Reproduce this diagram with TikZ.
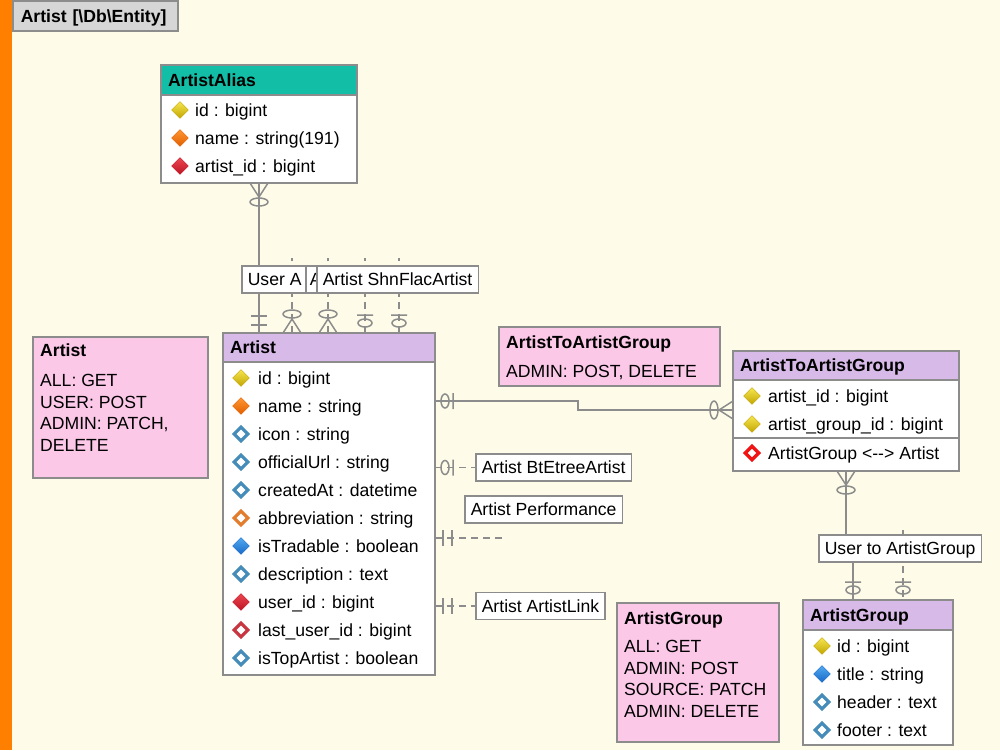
\documentclass[tikz,border=0pt]{standalone}
\usepackage{fontspec}
\setmainfont{Liberation Sans}
\usetikzlibrary{positioning,shapes.geometric,backgrounds}
\definecolor{bgcream}{RGB}{254,252,232}
\definecolor{barorange}{RGB}{255,128,0}
\definecolor{tabgray}{RGB}{214,214,214}
\definecolor{bordgray}{RGB}{140,140,140}
\definecolor{aliasteal}{RGB}{18,190,166}
\definecolor{entlilac}{RGB}{216,186,232}
\definecolor{notepink}{RGB}{251,200,232}
\definecolor{pklite}{RGB}{245,230,80}
\definecolor{pkdark}{RGB}{195,165,0}
\definecolor{uqlite}{RGB}{255,150,50}
\definecolor{uqdark}{RGB}{225,95,0}
\definecolor{fklite}{RGB}{235,70,80}
\definecolor{fkdark}{RGB}{190,20,35}
\definecolor{idxlite}{RGB}{80,170,240}
\definecolor{idxdark}{RGB}{25,105,200}
\definecolor{colblue}{RGB}{70,140,185}
\definecolor{orgline}{RGB}{225,125,45}
\definecolor{redline}{RGB}{200,55,65}
\definecolor{relred}{RGB}{240,20,20}
\newcommand{\erfont}{\fontsize{17.6}{21.5}\selectfont}
\tikzset{
  ent/.style     = {draw=bordgray,line width=1.5pt,fill=white,anchor=north west,
                    inner sep=0pt,outer sep=0pt},
  hdr/.style     = {draw=bordgray,line width=1.5pt,anchor=north west,outer sep=0pt,
                    inner xsep=7pt,inner ysep=0pt,minimum height=29pt,align=left,
                    font=\erfont\bfseries,text height=12.6pt,text depth=0pt},
  tabbox/.style  = {draw=bordgray,line width=1.5pt,fill=tabgray,anchor=north west,
                    inner xsep=8pt,inner ysep=0pt,minimum height=30pt,text width=149pt,
                    align=left,font=\erfont\bfseries,text height=12.6pt,text depth=0pt},
  note/.style    = {draw=bordgray,line width=1.5pt,fill=notepink,anchor=north west,
                    inner sep=0pt,outer sep=0pt},
  notetxt/.style = {anchor=north west,inner sep=0pt,align=left,font=\erfont},
  rowtxt/.style  = {anchor=west,inner sep=0pt,font=\erfont,text height=12.6pt,text depth=0pt},
  lbl/.style     = {draw=bordgray,line width=1.5pt,fill=white,anchor=west,inner xsep=6pt,
                    inner ysep=0pt,minimum height=27pt,font=\erfont,
                    text height=12.6pt,text depth=0pt},
  dbase/.style   = {diamond,inner sep=0pt,minimum width=17pt,minimum height=17pt},
  dpk/.style     = {dbase,top color=pklite,bottom color=pkdark,draw=pkdark,line width=0.4pt},
  duq/.style     = {dbase,top color=uqlite,bottom color=uqdark,draw=uqdark,line width=0.4pt},
  dfk/.style     = {dbase,top color=fklite,bottom color=fkdark,draw=fkdark,line width=0.4pt},
  didx/.style    = {dbase,top color=idxlite,bottom color=idxdark,draw=idxdark,line width=0.4pt},
  dcol/.style    = {dbase,minimum width=15pt,minimum height=15pt,draw=colblue,
                    line width=3.2pt,fill=white},
  dorg/.style    = {dcol,draw=orgline},
  dfko/.style    = {dcol,draw=redline},
  drel/.style    = {dcol,draw=relred,line width=3.4pt},
  rel/.style     = {draw=bordgray,line width=1.5pt},
  reldash/.style = {rel,dash pattern=on 7pt off 5pt},
  erline/.style  = {draw=bordgray,line width=1.5pt,solid},
  erOne/.pic     = {\draw[erline] (8,-8) -- (8,8) (17,-8) -- (17,8);},
  erZeroOne/.pic = {\draw[erline] (10,0) ellipse [x radius=4,y radius=7] (18,-8) -- (18,8);},
  erZeroMany/.pic= {\draw[erline] (0,-9) -- (14,0) -- (0,9) (19,0) ellipse [x radius=4,y radius=9];},
}
\begin{document}
\begin{tikzpicture}[x=1pt,y=-1pt]
  \useasboundingbox (0,0) rectangle (1000,750);
  \begin{scope}[on background layer]
    \fill[bgcream] (0,0) rectangle (1000,750);
    \fill[barorange] (0,0) rectangle (12,750);
  \end{scope}
  \node[tabbox] (tab) at (12,0) {Artist [\textbackslash Db\textbackslash Entity]};

  % notes
  \node[note,minimum width=175pt,minimum height=141pt] (artN) at (33,337) {};
  \node[notetxt] (artNT) at (40,343.7)
       {\textbf{Artist}\\[8.5pt]ALL: GET\\USER: POST\\ADMIN: PATCH,\\DELETE};
  \node[note,minimum width=221pt,minimum height=59pt] (atagN) at (499,327) {};
  \node[notetxt] (atagNT) at (506,335.7)
       {\textbf{ArtistToArtistGroup}\\[7.5pt]ADMIN: POST, DELETE};
  \node[note,minimum width=162pt,minimum height=139pt] (agN) at (617,603) {};
  \node[notetxt] (agNT) at (624,611.7)
       {\textbf{ArtistGroup}\\[6.5pt]ALL: GET\\ADMIN: POST\\SOURCE: PATCH\\ADMIN: DELETE};

  % entities
  \node[ent,minimum width=196pt,minimum height=118pt] (alias) at (161,65) {};
  \node[hdr,fill=aliasteal,minimum height=30pt,text width=182pt] (aliasH) at (alias.north west) {ArtistAlias};
  \foreach \txt/\ic [count=\i from 0] in {id : bigint/dpk, name : string(191)/duq,
                                          artist\_id : bigint/dfk}{
    \node[\ic] (aliasK\i) at (180,110+28*\i) {};
    \node[rowtxt] (aliasT\i) at (195,110+28*\i) {\txt};
  }

  \node[ent,minimum width=212pt,minimum height=342pt] (art) at (223,333) {};
  \node[hdr,fill=entlilac,text width=198pt] (artH) at (art.north west) {Artist};
  \foreach \txt/\ic [count=\i from 0] in {id : bigint/dpk, name : string/duq,
      icon : string/dcol, officialUrl : string/dcol, createdAt : datetime/dcol,
      abbreviation : string/dorg, isTradable : boolean/didx, description : text/dcol,
      user\_id : bigint/dfk, last\_user\_id : bigint/dfko, isTopArtist : boolean/dcol}{
    \node[\ic] (artK\i) at (241,378+28*\i) {};
    \node[rowtxt] (artT\i) at (258,378+28*\i) {\txt};
  }

  \node[ent,minimum width=226pt,minimum height=120pt] (atag) at (733,351) {};
  \node[hdr,fill=entlilac,text width=212pt] (atagH) at (atag.north west) {ArtistToArtistGroup};
  \foreach \txt/\ic [count=\i from 0] in {artist\_id : bigint/dpk,
                                          artist\_group\_id : bigint/dpk}{
    \node[\ic] (atagK\i) at (752,396+28*\i) {};
    \node[rowtxt] (atagT\i) at (768,396+28*\i) {\txt};
  }
  \draw[rel] (atag.west |- 0,438) -- (atag.east |- 0,438);
  \node[drel] (atagK2) at (752,453) {};
  \node[rowtxt] (atagT2) at (768,453) {ArtistGroup <-{}-> Artist};

  \node[ent,minimum width=150pt,minimum height=145pt] (ag) at (803,600) {};
  \node[hdr,fill=entlilac,minimum height=30pt,text width=136pt] (agH) at (ag.north west) {ArtistGroup};
  \foreach \txt/\ic [count=\i from 0] in {id : bigint/dpk, title : string/didx,
                                          header : text/dcol, footer : text/dcol}{
    \node[\ic] (agK\i) at (822,646+28*\i) {};
    \node[rowtxt] (agT\i) at (837,646+28*\i) {\txt};
  }

  % relation labels
  \node[lbl] (lblUA) at (241,279.5) {User A};
  \node[lbl,inner xsep=4pt] (lblUAb) at (305,279.5) {A};
  \node[lbl] (lblShn) at (316,279.5) {Artist ShnFlacArtist};
  \node[lbl] (lblBt) at (475,467.5) {Artist BtEtreeArtist};
  \node[lbl] (lblPerf) at (464,509.5) {Artist Performance};
  \node[lbl] (lblLink) at (475,606) {Artist ArtistLink};
  \node[lbl] (lblUg) at (818,548.5) {User to ArtistGroup};

  \coordinate (upA) at (292,258);
  \coordinate (upB) at (328,258);
  \coordinate (upC) at (365,258);
  \coordinate (upD) at (399,258);
  \coordinate (perfEnd) at (505,538);
  \coordinate (ugEnd) at (903,530);

  % connectors
  \begin{scope}[on background layer]
    \draw[rel] (alias.south) -- (alias.south |- art.north);
    \foreach \c in {upA,upB,upC,upD}
      \draw[reldash] (art.north -| \c) -- (\c);
    \draw[rel] (art.east |- 0,401) -| (578,405) |- (atag.west |- 0,410);
    \draw[reldash] (art.east |- lblBt.west) -- (lblBt.west);
    \draw[reldash] (art.east |- perfEnd) -- (perfEnd);
    \draw[reldash] (art.east |- lblLink.west) -- (lblLink.west);
    \draw[rel] (atag.south) -- (atag.south |- lblUg.center) -| (ag.north -| 853,0);
    \draw[reldash] (ugEnd) -- (ag.north -| ugEnd);

    \pic[rotate=-90] at (alias.south) {erZeroMany};
    \pic[rotate=90] at (alias.south |- art.north) {erOne};
    \foreach \c in {upA,upB}
      \pic[rotate=90] at (art.north -| \c) {erZeroMany};
    \foreach \c in {upC,upD}
      \pic[rotate=90] at (art.north -| \c) {erZeroOne};
    \pic at (art.east |- 0,401) {erZeroOne};
    \pic[rotate=180] at (atag.west |- 0,410) {erZeroMany};
    \pic at (art.east |- lblBt.west) {erZeroOne};
    \pic at (art.east |- perfEnd) {erOne};
    \pic at (art.east |- lblLink.west) {erOne};
    \pic[rotate=-90] at (atag.south) {erZeroMany};
    \pic[rotate=90] at (ag.north -| 853,0) {erZeroOne};
    \pic[rotate=90] at (ag.north -| ugEnd) {erZeroOne};
  \end{scope}
\end{tikzpicture}
\end{document}
